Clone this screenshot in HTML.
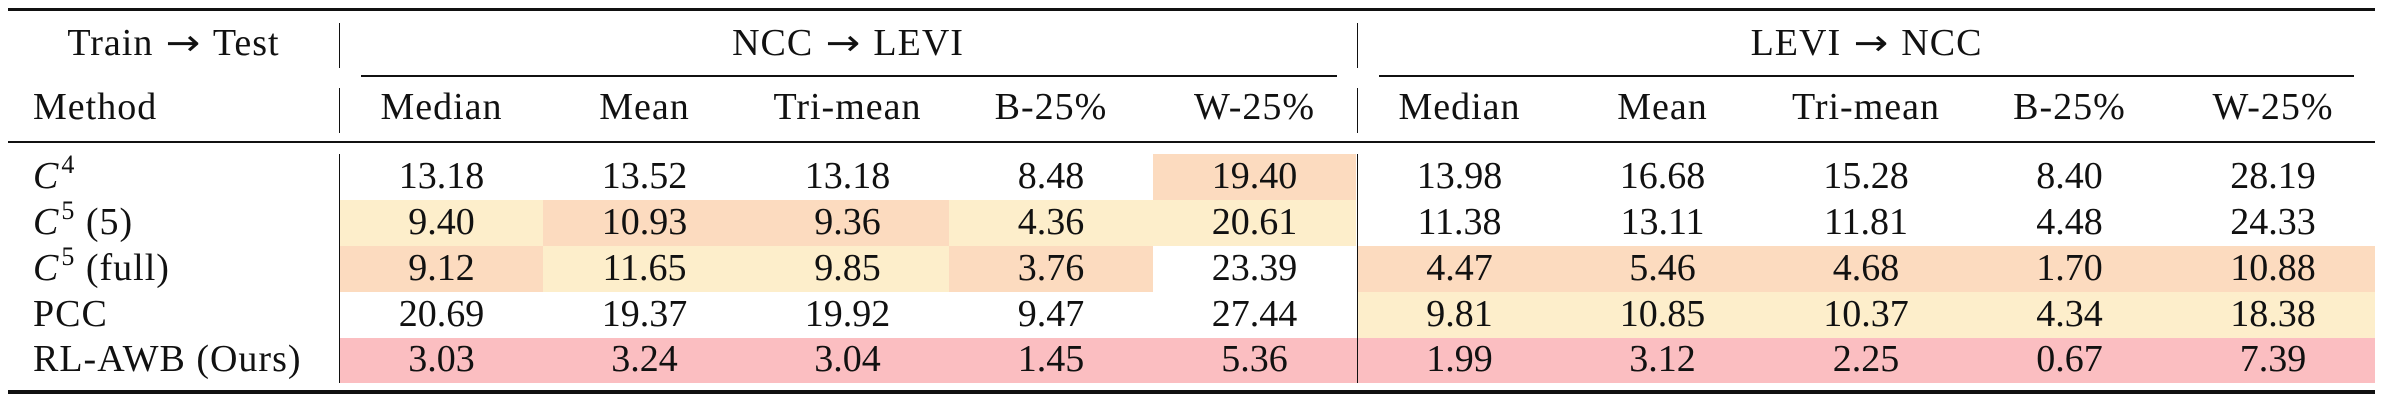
<!DOCTYPE html>
<html><head><meta charset="utf-8"><style>
html,body{margin:0;padding:0;background:#fff;}
body{width:2384px;height:402px;position:relative;overflow:hidden;font-family:"Liberation Serif","DejaVu Serif",serif;font-size:38px;color:#111;}
.r{position:absolute;background:#111;}
.t{position:absolute;height:46px;line-height:46px;white-space:nowrap;text-align:center;}
.l{text-align:left;letter-spacing:1px;}
.h{letter-spacing:1px;}
.b{position:absolute;}
.Y{background:#fdeecb}.P{background:#fcdbbf}.K{background:#fbbec1}
.c1{left:340px;width:203px}.c2{left:543px;width:203px}.c3{left:746px;width:203px}.c4{left:949px;width:204px}.c5{left:1153px;width:203px}
.d1{left:1358px;width:203px}.d2{left:1561px;width:203px}.d3{left:1764px;width:204px}.d4{left:1968px;width:203px}.d5{left:2171px;width:204px}
.r0{top:152.5px}.r1{top:198.5px}.r2{top:244.5px}.r3{top:290.5px}.r4{top:336px}
.sup{font-size:26px;position:relative;top:-15px;margin-left:2px;}
.ar{font-family:"DejaVu Sans",sans-serif;font-size:36px;display:inline-block;transform:scaleX(1.15);margin:0 4px;}
</style></head><body>

<!-- backgrounds -->
<div class="b P" style="left:1153px;top:154px;width:203px;height:46px"></div>
<div class="b Y" style="left:340px;top:200px;width:203px;height:46px"></div>
<div class="b P" style="left:543px;top:200px;width:406px;height:46px"></div>
<div class="b Y" style="left:949px;top:200px;width:407px;height:46px"></div>
<div class="b P" style="left:340px;top:246px;width:203px;height:46px"></div>
<div class="b Y" style="left:543px;top:246px;width:406px;height:46px"></div>
<div class="b P" style="left:949px;top:246px;width:204px;height:46px"></div>
<div class="b P" style="left:1358px;top:246px;width:1017px;height:46px"></div>
<div class="b Y" style="left:1358px;top:292px;width:1017px;height:45.5px"></div>
<div class="b K" style="left:340px;top:337.5px;width:2035px;height:45.5px"></div>

<!-- rules -->
<div class="r" style="left:8px;top:8px;width:2367px;height:3px"></div>
<div class="r" style="left:361px;top:75px;width:976px;height:1.6px"></div>
<div class="r" style="left:1379px;top:75px;width:975px;height:1.6px"></div>
<div class="r" style="left:8px;top:141px;width:2367px;height:2px"></div>
<div class="r" style="left:8px;top:390px;width:2367px;height:3.5px"></div>

<!-- vertical lines -->
<div class="r" style="left:338.5px;top:23px;width:1.5px;height:45px"></div>
<div class="r" style="left:338.5px;top:88px;width:1.5px;height:45px"></div>
<div class="r" style="left:338.5px;top:154px;width:1.5px;height:229px"></div>
<div class="r" style="left:1356.5px;top:23px;width:1.5px;height:45px"></div>
<div class="r" style="left:1356.5px;top:88px;width:1.5px;height:45px"></div>
<div class="r" style="left:1356.5px;top:154px;width:1.5px;height:229px"></div>

<!-- header row 1 -->
<div class="t h" style="left:8px;width:331px;top:20px">Train <span class="ar">→</span> Test</div>
<div class="t h" style="left:340px;width:1016px;top:20px">NCC <span class="ar">→</span> LEVI</div>
<div class="t h" style="left:1358px;width:1017px;top:20px">LEVI <span class="ar">→</span> NCC</div>

<!-- header row 2 -->
<div class="t l" style="left:33px;top:84px">Method</div>
<div class="t h c1" style="top:84px">Median</div>
<div class="t h c2" style="top:84px">Mean</div>
<div class="t h c3" style="top:84px">Tri-mean</div>
<div class="t h c4" style="top:84px">B-25%</div>
<div class="t h c5" style="top:84px">W-25%</div>
<div class="t h d1" style="top:84px">Median</div>
<div class="t h d2" style="top:84px">Mean</div>
<div class="t h d3" style="top:84px">Tri-mean</div>
<div class="t h d4" style="top:84px">B-25%</div>
<div class="t h d5" style="top:84px">W-25%</div>

<!-- row labels -->
<div class="t l r0" style="left:33px"><i>C</i><span class="sup">4</span></div>
<div class="t l r1" style="left:33px"><i>C</i><span class="sup">5</span>&nbsp;(5)</div>
<div class="t l r2" style="left:33px"><i>C</i><span class="sup">5</span>&nbsp;(full)</div>
<div class="t l r3" style="left:33px">PCC</div>
<div class="t l r4" style="left:33px">RL-AWB (Ours)</div>

<!-- row 0 -->
<div class="t c1 r0">13.18</div><div class="t c2 r0">13.52</div><div class="t c3 r0">13.18</div><div class="t c4 r0">8.48</div><div class="t c5 r0">19.40</div>
<div class="t d1 r0">13.98</div><div class="t d2 r0">16.68</div><div class="t d3 r0">15.28</div><div class="t d4 r0">8.40</div><div class="t d5 r0">28.19</div>
<!-- row 1 -->
<div class="t c1 r1">9.40</div><div class="t c2 r1">10.93</div><div class="t c3 r1">9.36</div><div class="t c4 r1">4.36</div><div class="t c5 r1">20.61</div>
<div class="t d1 r1">11.38</div><div class="t d2 r1">13.11</div><div class="t d3 r1">11.81</div><div class="t d4 r1">4.48</div><div class="t d5 r1">24.33</div>
<!-- row 2 -->
<div class="t c1 r2">9.12</div><div class="t c2 r2">11.65</div><div class="t c3 r2">9.85</div><div class="t c4 r2">3.76</div><div class="t c5 r2">23.39</div>
<div class="t d1 r2">4.47</div><div class="t d2 r2">5.46</div><div class="t d3 r2">4.68</div><div class="t d4 r2">1.70</div><div class="t d5 r2">10.88</div>
<!-- row 3 -->
<div class="t c1 r3">20.69</div><div class="t c2 r3">19.37</div><div class="t c3 r3">19.92</div><div class="t c4 r3">9.47</div><div class="t c5 r3">27.44</div>
<div class="t d1 r3">9.81</div><div class="t d2 r3">10.85</div><div class="t d3 r3">10.37</div><div class="t d4 r3">4.34</div><div class="t d5 r3">18.38</div>
<!-- row 4 -->
<div class="t c1 r4">3.03</div><div class="t c2 r4">3.24</div><div class="t c3 r4">3.04</div><div class="t c4 r4">1.45</div><div class="t c5 r4">5.36</div>
<div class="t d1 r4">1.99</div><div class="t d2 r4">3.12</div><div class="t d3 r4">2.25</div><div class="t d4 r4">0.67</div><div class="t d5 r4">7.39</div>

</body></html>
